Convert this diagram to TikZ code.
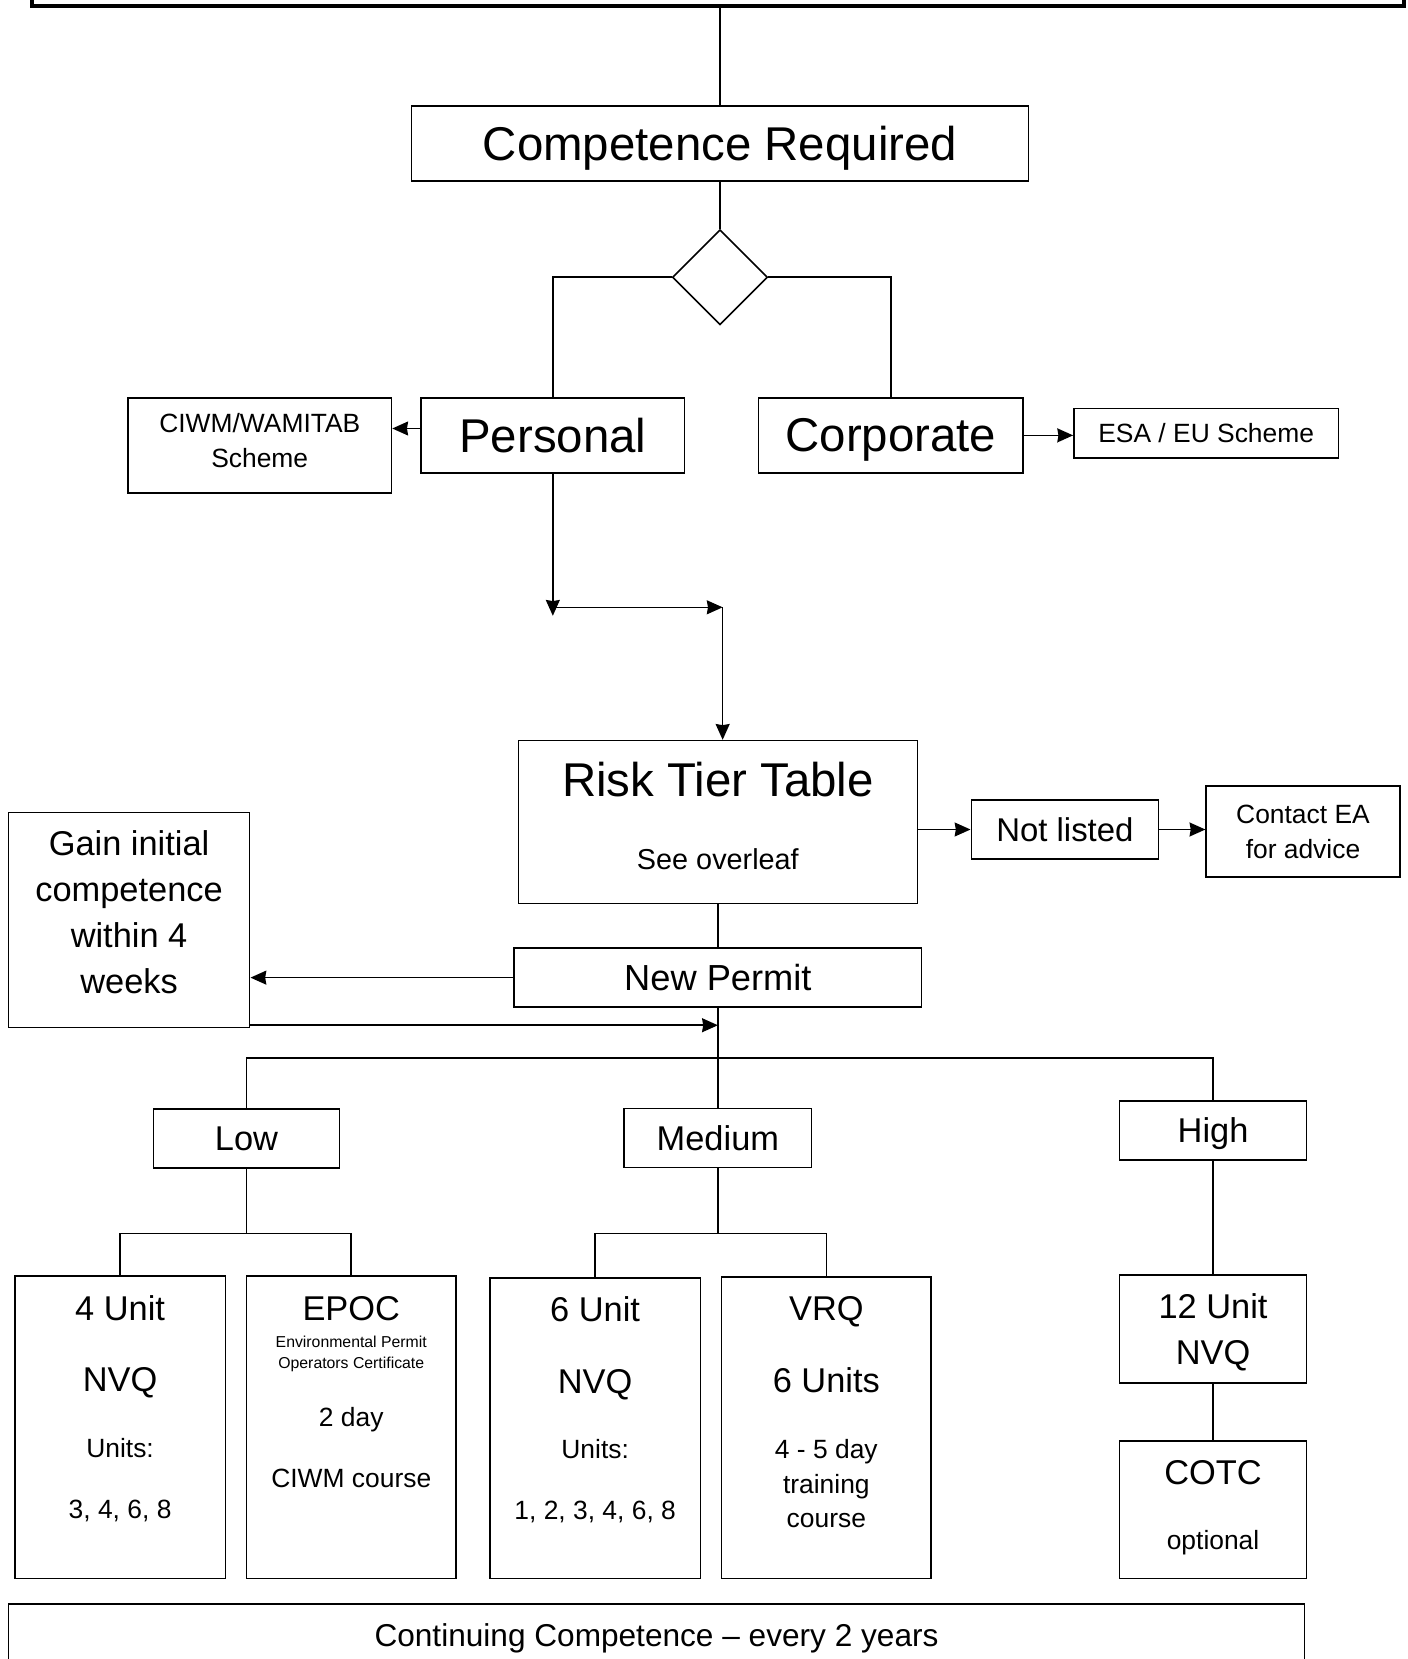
\documentclass[tikz,border=0pt]{standalone}
\usepackage{fontspec}
\setmainfont{Liberation Sans}
\usetikzlibrary{shapes.geometric,arrows.meta}

\begin{document}
\begin{tikzpicture}[
    every node/.append style={text depth=0pt},
    box/.style={draw,line width=0.85pt,inner sep=0pt},
    link/.style={line width=0.85pt},
    arr/.style={line width=0.85pt,-{Stealth[length=8.5pt,width=7.5pt,inset=0.6pt]}},
    hugefont/.style={font=\fontsize{25.5}{30}\selectfont},
    bigfont/.style={font=\fontsize{18.5}{24.6}\selectfont},
    smallfont/.style={font=\fontsize{14.2}{18.7}\selectfont},
    tinyfont/.style={font=\fontsize{8.5}{11.3}\selectfont}
]
    \useasboundingbox (0,0) rectangle (26.6,-31.36);

    \node[box,line width=2pt,minimum width=25.94cm,minimum height=1.24cm] (topbox) at (13.57,0.5) {};
    \node[box,hugefont,minimum width=11.66cm,minimum height=1.42cm] (comp) at (13.61,-2.71) {Competence Required};
    \node[draw,diamond,line width=0.85pt,inner sep=0pt,minimum size=1.8cm] (choice) at (13.61,-5.24) {};
    \node[box,hugefont,minimum width=4.98cm,minimum height=1.42cm] (personal) at (10.45,-8.23) {Personal};
    \node[box,hugefont,minimum width=5cm,minimum height=1.42cm] (corporate) at (16.84,-8.23) {Corporate};
    \node[box,minimum width=4.98cm,minimum height=1.8cm] (ciwm) at (4.91,-8.42) {};
    \node[smallfont,align=center] (ciwmtext) at (4.91,-8.33) {CIWM/WAMITAB\\Scheme};
    \node[box,smallfont,minimum width=5cm,minimum height=0.94cm] (esa) at (22.8,-8.19) {ESA / EU Scheme};

    \draw[link] (comp.north |- topbox.south) -- (comp.north);
    \draw[link] (comp.south) -- (choice.north);
    \draw[link] (choice.west) -| (personal.north);
    \draw[link] (choice.east) -| (corporate.north);
    \coordinate (pout) at (7.96,-8.1);
    \draw[arr] (pout) -- (pout -| ciwm.east);
    \draw[arr] (corporate.east) -- (corporate.east -| esa.west);

    \coordinate (pdrop) at (10.45,-11.64);
    \coordinate (pturn) at (10.45,-11.48);
    \coordinate (rturn) at (13.66,-11.48);
    \draw[arr] (personal.south) -- (pdrop);
    \draw[arr] (pturn) -- (rturn);

    \node[box,minimum width=7.54cm,minimum height=3.08cm] (risk) at (13.57,-15.54) {};
    \node[hugefont] (risktitle) at (13.57,-14.74) {Risk Tier Table};
    \node[font=\fontsize{15.5}{18}\selectfont] (riskhint) at (13.57,-16.24) {See overleaf};
    \draw[arr] (rturn) -- (rturn |- risk.north);

    \node[box,font=\fontsize{17.7}{21}\selectfont,minimum width=3.54cm,minimum height=1.12cm] (notlisted) at (20.13,-15.68) {Not listed};
    \node[box,smallfont,align=center,minimum width=3.66cm,minimum height=1.72cm] (contact) at (24.63,-15.72) {Contact EA\\for advice};
    \draw[arr] (notlisted.west -| risk.east) -- (notlisted.west);
    \draw[arr] (notlisted.east) -- (notlisted.east -| contact.west);

    \node[box,font=\fontsize{19.5}{23}\selectfont,minimum width=7.7cm,minimum height=1.12cm] (newpermit) at (13.57,-18.48) {New Permit};
    \node[box,minimum width=4.56cm,minimum height=4.06cm] (gain) at (2.44,-17.39) {};
    \node[bigfont,align=center] (gaintext) at (2.44,-17.24) {Gain initial\\competence\\within 4\\weeks};
    \draw[link] (risk.south) -- (newpermit.north);
    \draw[arr] (newpermit.west) -- (newpermit.west -| gain.east);
    \coordinate (back) at (13.57,-19.38);
    \draw[arr] (back -| gain.east) -- (back);

    \node[box,bigfont,minimum width=3.52cm,minimum height=1.12cm] (low) at (4.66,-21.52) {Low};
    \node[box,bigfont,minimum width=3.54cm,minimum height=1.12cm] (medium) at (13.57,-21.51) {Medium};
    \node[box,bigfont,minimum width=3.54cm,minimum height=1.12cm] (high) at (22.93,-21.37) {High};
    \coordinate (tierbar) at (13.57,-20.0);
    \draw[link] (newpermit.south) -- (medium.north);
    \draw[link] (low.north) |- (tierbar) -| (high.north);

    \node[box,minimum width=3.98cm,minimum height=5.72cm] (nvqfour) at (2.27,-26.98) {};
    \node[box,minimum width=3.96cm,minimum height=5.72cm] (epoc) at (6.64,-26.98) {};
    \node[box,minimum width=3.98cm,minimum height=5.68cm] (nvqsix) at (11.25,-27.0) {};
    \node[box,minimum width=3.96cm,minimum height=5.7cm] (vrq) at (15.62,-26.99) {};
    \coordinate (lowbar) at (4.66,-23.32);
    \coordinate (medbar) at (13.57,-23.32);
    \draw[link] (low.south) -- (lowbar);
    \draw[link] (nvqfour.north) |- (lowbar) -| (epoc.north);
    \draw[link] (medium.south) -- (medbar);
    \draw[link] (nvqsix.north) |- (medbar) -| (vrq.north);

    \node[bigfont] (fourunit) at ([shift={(0,-0.62)}]nvqfour.north) {4 Unit};
    \node[bigfont] (fournvq) at ([shift={(0,-1.98)}]nvqfour.north) {NVQ};
    \node[smallfont] (fourunits) at ([shift={(0,-3.26)}]nvqfour.north) {Units:};
    \node[smallfont] (fourlist) at ([shift={(0,-4.42)}]nvqfour.north) {3, 4, 6, 8};

    \node[bigfont] (epoctitle) at ([shift={(0,-0.62)}]epoc.north) {EPOC};
    \node[tinyfont,align=center] (epocfull) at ([shift={(0,-1.46)}]epoc.north) {Environmental Permit\\Operators Certificate};
    \node[smallfont] (epocdays) at ([shift={(0,-2.68)}]epoc.north) {2 day};
    \node[smallfont] (epoccourse) at ([shift={(0,-3.84)}]epoc.north) {CIWM course};

    \node[bigfont] (sixunit) at ([shift={(0,-0.6)}]nvqsix.north) {6 Unit};
    \node[bigfont] (sixnvq) at ([shift={(0,-1.96)}]nvqsix.north) {NVQ};
    \node[smallfont] (sixunits) at ([shift={(0,-3.24)}]nvqsix.north) {Units:};
    \node[smallfont] (sixlist) at ([shift={(0,-4.4)}]nvqsix.north) {1, 2, 3, 4, 6, 8};

    \node[bigfont] (vrqtitle) at ([shift={(0,-0.6)}]vrq.north) {VRQ};
    \node[bigfont] (vrqunits) at ([shift={(0,-1.96)}]vrq.north) {6 Units};
    \node[smallfont,align=center] (vrqcourse) at ([shift={(0,-3.92)}]vrq.north) {4 - 5 day\\training\\course};

    \node[box,bigfont,align=center,minimum width=3.54cm,minimum height=2.04cm] (nvqtwelve) at (22.93,-25.12) {12 Unit\\NVQ};
    \node[box,minimum width=3.54cm,minimum height=2.6cm] (cotc) at (22.93,-28.54) {};
    \node[bigfont] (cotctitle) at ([shift={(0,-0.6)}]cotc.north) {COTC};
    \node[smallfont] (cotcnote) at ([shift={(0,-1.88)}]cotc.north) {optional};
    \draw[link] (high.south) -- (nvqtwelve.north);
    \draw[link] (nvqtwelve.south) -- (cotc.north);

    \node[box,minimum width=24.5cm,minimum height=1.4cm] (continuing) at (12.41,-31.02) {};
    \node[font=\fontsize{17}{20}\selectfont] (continuingtext) at (12.41,-30.9) {Continuing Competence -- every 2 years};
\end{tikzpicture}
\end{document}
